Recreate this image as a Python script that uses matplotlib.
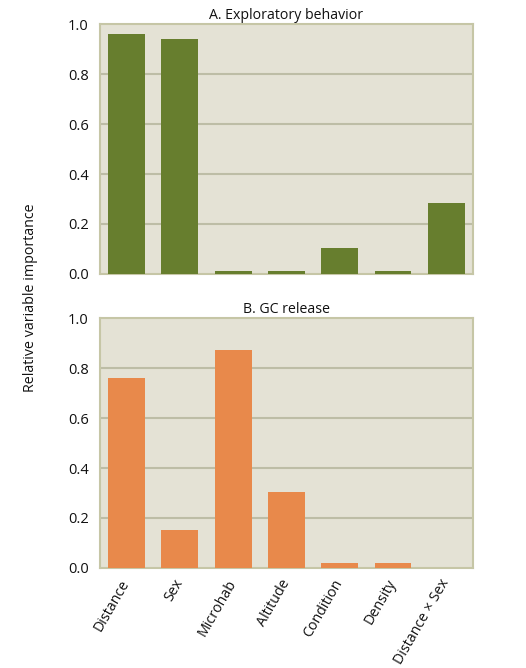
import matplotlib
matplotlib.use("Agg")
import matplotlib.pyplot as plt
import numpy as np

categories = ["Distance", "Sex", "Microhab", "Altitude", "Condition", "Density", "Distance \u00d7 Sex"]
exploratory = [0.96, 0.94, 0.013, 0.013, 0.103, 0.013, 0.283]
gc_release = [0.76, 0.152, 0.872, 0.302, 0.02, 0.02, 0.0]
titles = ["A. Exploratory behavior", "B. GC release"]
yticks = [0.0, 0.2, 0.4, 0.6, 0.8, 1.0]

plt.rcParams['font.family'] = ['Open Sans', 'DejaVu Sans']

fig = plt.figure(figsize=(5.26, 6.68), dpi=100)
ax1 = fig.add_axes([0.190, 0.590, 0.709, 0.3735])
ax2 = fig.add_axes([0.190, 0.150, 0.709, 0.3735])

bg = "#e4e2d5"
edge = "#c6c6a6"
grid = "#bdbda6"
colors = ["#677e2e", "#e8894b"]
txt = "#111111"

x = np.arange(len(categories))
for ax, vals, col, title in zip([ax1, ax2], [exploratory, gc_release], colors, titles):
    ax.set_facecolor(bg)
    ax.bar(x, vals, width=0.69, color=col, zorder=3)
    ax.set_xlim(-0.5, len(categories) - 0.5)
    ax.set_ylim(0, 1.0)
    ax.set_yticks(yticks)
    ax.set_yticklabels([f"{v:.1f}" for v in yticks], fontsize=10.5, color=txt)
    for y in yticks[1:-1]:
        ax.axhline(y, color=grid, lw=1.5, zorder=1)
    for s in ax.spines.values():
        s.set_color(edge)
        s.set_linewidth(1.5)
    ax.tick_params(axis='y', length=0, pad=8)
    ax.tick_params(axis='x', length=0)
    ax.set_title(title, fontsize=10.2, pad=4, color=txt)

ax1.set_xticks([])
ax2.set_xticks(x)
ax2.set_xticklabels(categories, rotation=60, ha='right', va='center', rotation_mode='anchor', fontsize=10.3, color=txt)
ax2.tick_params(axis='x', pad=9)

fig.text(0.058, 0.555, "Relative variable importance", rotation=90, ha='center', va='center', fontsize=10.3, color=txt)

fig.savefig("out.png", dpi=100, facecolor="white")
